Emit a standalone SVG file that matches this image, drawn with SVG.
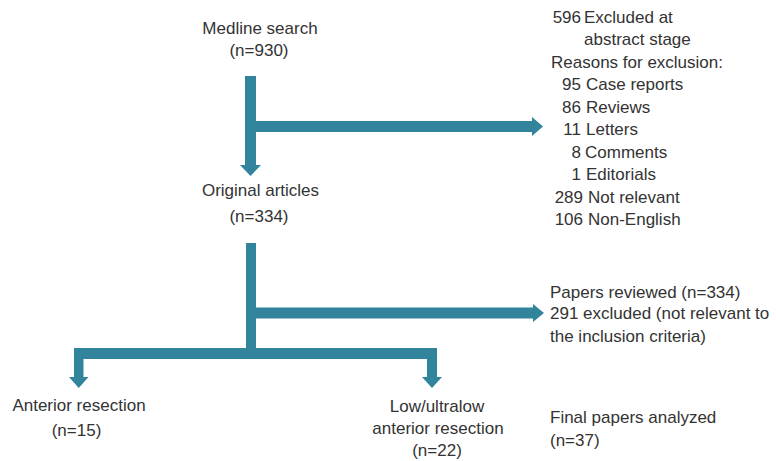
<svg xmlns="http://www.w3.org/2000/svg" width="776" height="461" viewBox="0 0 776 461">
<style>
  text { font-family: "Liberation Sans", Arial, sans-serif; font-size: 17px; fill: #333333; }
  .c { text-anchor: middle; }
  .e { text-anchor: end; }
  .arrow { fill: #31849B; stroke: none; }
</style>
<rect width="776" height="461" fill="#ffffff"/>

<g id="connectors">
  <!-- Medline down to Original articles -->
  <polygon class="arrow" points="245,76 256,76 256,165 261,165 250.5,176 240,165 245,165"/>
  <!-- branch to exclusions -->
  <polygon class="arrow" points="256,121 532,121 532,117 543,126.5 532,136 532,132 256,132"/>
  <!-- second vertical -->
  <rect class="arrow" x="246" y="243" width="10" height="116"/>
  <!-- branch to papers reviewed -->
  <polygon class="arrow" points="256,307.5 533,307.5 533,304 544,313 533,322 533,318.5 256,318.5"/>
  <!-- bottom horizontal -->
  <rect class="arrow" x="74" y="348" width="363" height="11"/>
  <!-- left down arrow -->
  <polygon class="arrow" points="74,359 83.5,359 83.5,377 88.5,377 78.75,388 69,377 74,377"/>
  <!-- right down arrow -->
  <polygon class="arrow" points="427,359 437,359 437,377 442,377 432,388 422,377 427,377"/>
</g>

<g id="medline">
  <text class="c" x="260" y="34">Medline search</text>
  <text class="c" x="259" y="56">(n=930)</text>
</g>

<g id="original">
  <text class="c" x="260.5" y="196">Original articles</text>
  <text class="c" x="259" y="222">(n=334)</text>
</g>

<g id="excluded">
  <text class="e" x="581" y="22.5">596</text><text x="584" y="22.5">Excluded at</text>
  <text x="584" y="45">abstract stage</text>
  <text x="551" y="67.5">Reasons for exclusion:</text>
  <text class="e" x="581" y="90">95</text><text x="586" y="90">Case reports</text>
  <text class="e" x="581" y="112.5">86</text><text x="586" y="112.5">Reviews</text>
  <text class="e" x="581" y="135">11</text><text x="586" y="135">Letters</text>
  <text class="e" x="581" y="157.5">8</text><text x="585" y="157.5">Comments</text>
  <text class="e" x="581" y="180">1</text><text x="586" y="180">Editorials</text>
  <text class="e" x="583" y="202.5">289</text><text x="588" y="202.5">Not relevant</text>
  <text class="e" x="583" y="225">106</text><text x="588" y="225">Non-English</text>
</g>

<g id="reviewed">
  <text x="550" y="298">Papers reviewed (n=334)</text>
  <text x="550" y="319">291 excluded (not relevant to</text>
  <text x="550" y="342">the inclusion criteria)</text>
</g>

<g id="anterior">
  <text class="c" x="79" y="411">Anterior resection</text>
  <text class="c" x="76.5" y="436">(n=15)</text>
</g>

<g id="lowultralow">
  <text class="c" x="437" y="412">Low/ultralow</text>
  <text class="c" x="438" y="434">anterior resection</text>
  <text class="c" x="437" y="456">(n=22)</text>
</g>

<g id="final">
  <text x="550" y="423">Final papers analyzed</text>
  <text x="550" y="446">(n=37)</text>
</g>
</svg>
